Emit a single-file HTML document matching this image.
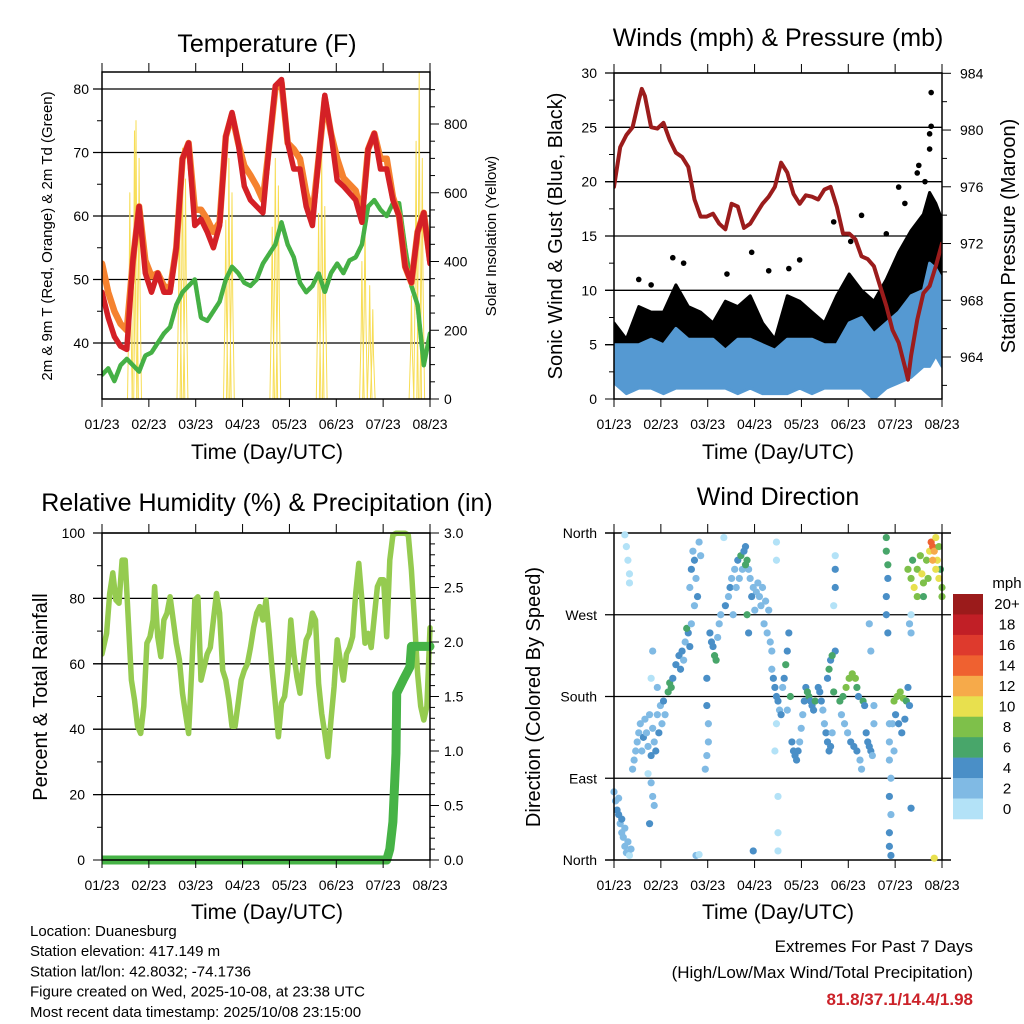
<!DOCTYPE html>
<html><head><meta charset="utf-8"><style>
body{margin:0;background:#fff;}
svg{display:block;font-family:"Liberation Sans",sans-serif;}
</style></head><body>
<svg id="s" width="1024" height="1024" viewBox="0 0 1024 1024" xmlns="http://www.w3.org/2000/svg"></svg>
<script>
// ---------- DATA ----------
const monthLabels=["01/23","02/23","03/23","04/23","05/23","06/23","07/23","08/23"];
const tDays=[0,4,8,12,16,20,24,28,32,36,40,44,48,52,56,60,64,68,72,76,80,84,88,92,96,100,104,108,112,116,120,124,128,132,136,140,144,148,152,156,160,164,168,172,176,180,184,188,192,196,200,204,208,212];
const temp2m=[48,44,41,39.5,39,53,61.5,51,48,51,48,48,55,69,71.5,58.5,59.5,57.5,55,58.5,72.5,76.3,71.5,64.7,62.5,61.5,60.5,71,80.5,81.5,71.5,67.4,67.4,61.5,58.5,69,79,73,65.6,64.7,63.6,62.5,59,70.5,73,67.4,67.4,62.5,60,52,49.5,57.5,60.5,52.5];
const temp9m=[52.5,48,45,43,42,53,61.5,53,50.5,51,49,48.5,55,69,71.5,61,61,59.5,57.5,59,72.5,76,71.5,67.9,66.4,64.7,62.5,71,80,81,71.5,70.5,69,63.6,60,69,78.5,73,69,66,65,64,60,70.5,73,69,69,63,60,52,49.5,57.5,60.5,53];
const dew2m=[35,36,34,36.5,37.5,36.5,35.5,38,38.5,40,41.5,42.5,46,48,49,50,44,43.5,45,46.5,50,52,51,49.5,49,50,52.5,54,55.5,59,55.5,53.5,49.5,48,49,51,48,51,52.5,51,53,53.5,55.5,61.5,62.5,61,60,62,62,55,49,46,36.5,41.5];
const solarDays=[18,21,22,24,50,52,54,80,82,84,110,112,114,140,142,144,168,170,173,175,200,203,205,207];
const solarPeaks=[600,780,810,700,620,730,640,520,700,600,500,700,620,540,720,560,400,520,330,260,300,750,950,700];
const pDays=[0,4,8,12,16,18,20,24,28,32,36,40,44,48,52,56,60,64,68,72,76,80,84,88,92,96,100,104,108,112,116,120,124,128,132,136,140,144,148,152,156,160,164,168,172,176,180,184,188,190,192,196,200,204,208,212];
const pressure=[976.0,978.8,979.65,980.2,982.1,982.9,982.4,980.2,980.1,980.5,979.3,978.4,978.1,977.4,975.1,973.9,973.9,974.1,973.4,973.0,974.8,974.6,973.1,973.4,974.1,974.8,975.3,976.0,977.7,977.0,975.5,974.8,975.4,975.3,975.1,975.8,976.0,974.6,972.7,972.7,972.3,971.1,970.9,970.4,969.0,967.6,965.9,965.0,963.3,962.4,964.1,966.6,968.5,969.0,970.4,972.0];
const wDays=[0,8,16,24,32,40,48,56,64,72,80,88,96,104,112,120,128,136,144,152,160,168,176,184,192,200,204,208,212];
const windLow=[1.5,0.5,1,1,0.5,1,1,1,1,1,0.5,1,0.5,0.5,0.5,1,0.5,1,1,1,1,0,1,1.5,2,3,3,4,3];
const windHigh=[5,5,5,5.5,5,6.5,5.5,5.5,5.5,4.5,5.5,5.5,5,4.5,5.5,5.5,5.5,5,5,7,7.5,6,7,8,9.5,10,12.5,12,11];
const gustLow=[3,2,3,3,3,3,3,4,3,4,3,3,3,3,3,3,3,2,3,3,3,3,4,4,6,7,7,8,6];
const gustHigh=[7,5.5,8.5,8,8,10.5,8.5,8,7,9,8.5,9.5,7,5.5,9.5,9,8,7,9.5,11.5,10,9,11,13.5,15.5,17,19,18,16.5];
const gustOutDays=[142,89,205,205,204,204,184,196,160,176,38,45,120,100,16,24,73,113,153,197,201,188];
const gustOutVals=[16.3,13.5,28.2,25.1,24.4,23,19.5,20.8,16.9,15.2,13,12.5,12.8,11.8,11,10.5,11.5,12,14.5,21.5,20,18];
const rhDays=[0,3,5,7,9,11,13,15,17,19,21,23,25,27,29,31,33,34,36,38,40,42,44,46,48,50,52,54,56,58,60,62,64,66,68,70,72,74,76,78,80,82,84,86,88,90,92,94,96,98,100,102,104,106,108,110,112,114,116,118,120,122,124,126,128,130,132,134,136,138,140,142,144,146,148,150,152,154,156,158,160,162,164,166,168,170,172,174,176,178,180,182,184,186,188,190,192,194,196,198,200,202,204,206,208,210,212];
const rhVals=[63,69.3,81.5,87.8,79.5,78.5,91.7,91.7,73.4,55,49,40.9,38.7,47,66.3,68.3,73.4,83.6,68.3,62.2,73.4,75.5,80.5,73.4,66.3,61.2,51,44.8,38.7,58,79.5,80.5,55,59,63,65,73.4,81.5,75.5,58,55,49,40.9,40.9,48,55,58,60,65,71,75.5,77.5,73.4,79.5,69.3,58,48,37.7,48,50,58,73.4,63,56,51,60,67.3,69.3,75.5,73.4,54,44.8,38.7,31.6,42.8,53,67.3,61,55,63,65,68.3,81.5,90.7,79.5,66.3,69.3,65,74.4,83.6,85.7,85.7,68.3,91.7,99.4,99.9,99.9,99.9,99.9,99.4,88.7,73.4,57,47,42.8,47,71];
const rainDays=[0,184,186,188,190,190.5,194.6,199,200,212];
const rainVals=[0,0,0.1,0.35,0.98,1.53,1.65,1.77,1.96,1.96];
const dirDays=[0,1,2,3,4,5,6,7,8,9,10,11,5,3,7,7,8,9,10,10,
12,13,14,15,16,17,18,19,20,21,22,23,24,25,26,27,28,29,30,31,32,33,22,24,25,23,26,24,25,28,
35,36,37,38,40,42,44,46,48,45,43,47,49,50,49,50,51,52,53,54,55,56,52,60,60,61,61,60,59,53,55,
62,63,64,65,66,67,68,69,72,74,75,76,78,80,82,84,85,86,87,88,90,92,94,95,96,98,100,83,81,79,89,91,93,85,86,87,97,99,101,77,102,71,105,105,106,106,106,105,104,90,
102,103,104,105,106,107,108,109,110,111,112,113,114,112,
115,116,117,118,119,120,121,122,123,124,125,126,127,128,129,130,143,143,143,142,143,
132,133,134,135,136,137,138,139,140,141,138,139,140,141,142,
146,148,150,152,154,156,157,158,147,149,151,153,155,157,159,160,161,162,
163,164,165,166,167,168,166,165,168,
176,176,177,177,176,176,177,178,178,178,179,178,179,178,178,179,180,181,
181,183,185,187,189,182,184,186,188,190,191,191,192,192,192,
190,192,194,196,198,199,200,202,204,205,206,207,208,209,210,211,212,196,203,200,193,206,208,212,210,207];
const dirDeg=[75,65,55,50,40,30,25,15,8,20,5,12,45,68,35,358,345,330,315,305,
100,110,120,130,140,150,120,135,155,140,125,160,115,145,130,120,160,140,170,150,175,160,95,85,70,40,60,200,230,190,
185,195,190,200,215,225,230,240,250,220,210,255,235,260,300,320,340,330,310,290,350,335,280,200,170,150,130,115,100,5,6,
250,240,235,225,220,245,260,270,280,290,300,310,320,330,335,340,345,330,320,310,300,295,290,280,300,285,275,320,310,300,290,275,305,325,270,250,260,250,240,270,230,355,350,330,10,30,70,150,120,10,
210,200,190,180,175,165,160,190,200,215,230,250,180,165,
130,120,115,110,120,130,145,160,175,190,185,180,175,170,165,175,335,320,300,280,230,
190,185,175,165,150,140,130,120,125,140,200,210,220,225,185,
175,180,190,200,205,200,190,180,160,150,140,130,125,120,110,100,175,170,
140,130,125,120,115,150,230,260,170,
355,340,325,310,290,270,250,150,130,110,90,70,50,30,15,5,150,120,
175,180,185,178,175,160,150,140,155,190,170,260,270,250,57,
320,310,300,320,335,315,305,330,340,350,345,340,355,330,345,320,300,290,310,290,330,330,320,290,310,2];
const dirSpd=[2,3,4,4,3,2,3,2,2,3,1,2,4,2,3,0,1,1,1,1,
2,2,2,2,2,3,3,4,3,2,3,2,4,2,3,4,2,4,3,2,4,2,1,3,2,4,2,1,2,2,
6,6,7,4,4,4,4,3,4,2,4,6,4,3,3,4,3,4,2,4,3,2,3,4,4,2,2,2,2,2,1,
4,4,4,6,6,2,3,2,4,2,4,2,2,4,6,4,4,6,2,2,2,2,2,2,2,2,2,2,2,2,4,2,2,6,6,4,2,2,2,2,2,1,1,1,1,1,1,1,1,4,
2,4,4,4,4,2,4,2,4,6,4,4,6,2,
4,4,4,4,4,2,2,2,4,4,6,6,4,4,4,6,1,4,4,1,4,
4,4,4,2,2,4,4,4,4,2,4,6,4,6,6,
6,6,8,8,8,8,6,4,2,2,2,4,4,4,2,2,6,4,
4,4,4,4,2,2,2,2,2,
6,6,6,4,4,4,4,2,2,2,2,4,2,4,4,4,2,2,
8,8,8,8,6,4,4,4,4,4,4,2,1,2,4,
8,8,10,8,8,10,8,8,10,14,14,12,10,10,8,6,8,8,8,6,6,12,10,8,10,10];
const cbLabels=["20+","18","16","14","12","10","8","6","4","2","0"];
const cbColors=["#9b1b1b","#c11f26","#de3a2d","#ef6130","#f6aa4a","#e8e04e","#7ec04a","#48a66a","#4a8fc7","#80bae4","#b3e2f7"];
// ---------- HELPERS ----------
const S=document.getElementById('s');const NS='http://www.w3.org/2000/svg';
function el(tag,attrs,parent,text){const e=document.createElementNS(NS,tag);for(const k in attrs)e.setAttribute(k,attrs[k]);if(text!==undefined)e.textContent=text;(parent||S).appendChild(e);return e;}
function lin(d0,d1,r0,r1){return v=>r0+(v-d0)*(r1-r0)/(d1-d0);}
function txt(x,y,s,size,anchor,parent,name,extra){const t=el('text',Object.assign({x:x,y:y,'font-size':size,'text-anchor':anchor||'middle',fill:'#000'},extra||{}),parent,s);return t;}
function line(x1,y1,x2,y2,w,parent,c){return el('line',{x1:x1,y1:y1,x2:x2,y2:y2,stroke:c||'#000','stroke-width':w||1},parent);}
function poly(xs,ys,parent,attrs){let d='';for(let i=0;i<xs.length;i++)d+=(i?'L':'M')+xs[i].toFixed(1)+','+ys[i].toFixed(1);return el('path',Object.assign({d:d,fill:'none','stroke-linejoin':'round','stroke-linecap':'round'},attrs),parent);}
function group(name){const g=el('g',{});return g;}
function clip(id,x0,y0,x1,y1){const c=el('clipPath',{id:id});el('rect',{x:x0,y:y0,width:x1-x0,height:y1-y0},c);}
function frame(g,x0,y0,x1,y1,leftTicks,rightTicks,ly,ry){
  const ax=group('x-axis');g.appendChild(ax);
  for(let i=0;i<8;i++){const x=x0+(x1-x0)*i/7;line(x,y1,x,y1+8,1,ax);line(x,y0,x,y0-9,1,ax);txt(x,y1+30,monthLabels[i],14,'middle',ax,'x-tick-label');}
  for(const v of leftTicks.major){line(x0-9,ly(v),x0,ly(v),1,g);}
  for(const v of leftTicks.minor){line(x0-5,ly(v),x0,ly(v),1,g);}
  for(const v of rightTicks.major){line(x1,ry(v),x1+9,ry(v),1,g);}
  for(const v of rightTicks.minor){line(x1,ry(v),x1+5,ry(v),1,g);}
  el('rect',{x:x0,y:y0,width:x1-x0,height:y1-y0,fill:'none',stroke:'#000','stroke-width':1.5},g);
}
el('rect',{x:0,y:0,width:1024,height:1024,fill:'#fff'});
const DMAX=212;
// ---------- PANEL 1 : TEMPERATURE ----------
(function(){
 const x0=102,x1=430,y0=72,y1=399;const g=group('temperature-panel');
 const X=lin(0,DMAX,x0,x1),Y=lin(40,80,343,89),YS=lin(0,800,399,124);
 clip('c1',x0,y0,x1,y1);
 for(const v of [40,50,60,70,80])line(x0-9,Y(v),x1,Y(v),1.3,g);
 const d=el('g',{'clip-path':'url(#c1)'},g);
 const sg=group('solar-insolation-series');d.appendChild(sg);
 for(let i=0;i<solarDays.length;i++){const p=poly([X(solarDays[i]-1.5),X(solarDays[i]-0.5),X(solarDays[i]),X(solarDays[i]+0.5),X(solarDays[i]+1.5)],[YS(0),YS(solarPeaks[i]*0.5),YS(solarPeaks[i]),YS(solarPeaks[i]*0.5),YS(0)],sg,{stroke:'#f7dd55','stroke-width':1});
  }
 const dp=poly(tDays.map(X),dew2m.map(Y),d,{stroke:'#45b045','stroke-width':4.5,'stroke-dasharray':'3 1'});
 const op=poly(tDays.map(X),temp9m.map(Y),d,{stroke:'#f5822f','stroke-width':6.5});
 const rp=poly(tDays.map(X),temp2m.map(Y),d,{stroke:'#d42026','stroke-width':5.5});
 frame(g,x0,y0,x1,y1,{major:[40,50,60,70,80],minor:[35,45,55,65,75]},{major:[0,200,400,600,800],minor:[50,100,150,250,300,350,450,500,550,650,700,750,850,900]},Y,YS);
 for(const v of [40,50,60,70,80])txt(x0-13,Y(v)+5,String(v),14,'end',g,'y-tick-label');
 for(const v of [0,200,400,600,800])txt(x1+14,YS(v)+5,String(v),14,'start',g,'y2-tick-label');
 txt(267,52,'Temperature (F)',25,'middle',g,'temperature-title');
 txt(267,459,'Time (Day/UTC)',21,'middle',g,'x-axis-title');
 txt(0,0,'2m & 9m T (Red, Orange) & 2m Td (Green)',15,'middle',g,'y-axis-title',{transform:'translate(52,236) rotate(-90)'});
 txt(0,0,'Solar Insolation (Yellow)',15,'middle',g,'y2-axis-title',{transform:'translate(496,236) rotate(-90)'});
})();
// ---------- PANEL 2 : WINDS ----------
(function(){
 const x0=614,x1=942,y0=73,y1=399;const g=group('winds-panel');
 const X=lin(0,DMAX,x0,x1),Y=lin(0,30,399,73),YP=lin(964,984,357,73.3);
 clip('c2',x0,y0-2,x1,y1);
 for(const v of [5,10,15,20,25,30])line(x0-9,Y(v),x1,Y(v),1.3,g);
 const d=el('g',{'clip-path':'url(#c2)'},g);
 const gx=wDays.map(X).concat(wDays.slice().reverse().map(X));
 const gb=poly(gx,gustHigh.map(Y).concat(gustLow.slice().reverse().map(Y)),d,{fill:'#000',stroke:'#000','stroke-width':3});
 for(let i=0;i<gustOutDays.length;i++){const c=el('circle',{cx:X(gustOutDays[i]),cy:Y(gustOutVals[i]),r:2.8,fill:'#000'},d);}
 const wb=poly(gx,windHigh.map(Y).concat(windLow.slice().reverse().map(Y)),d,{fill:'#5599d2',stroke:'#5599d2','stroke-width':3});
 const pp=poly(pDays.map(X),pressure.map(YP),d,{stroke:'#9b1c1c','stroke-width':4});
 frame(g,x0,y0,x1,y1,{major:[0,5,10,15,20,25,30],minor:[2.5,7.5,12.5,17.5,22.5,27.5]},{major:[964,968,972,976,980,984],minor:[962,966,970,974,978,982]},Y,YP);
 for(const v of [0,5,10,15,20,25,30])txt(x0-17,Y(v)+5,String(v),14,'end',g,'y-tick-label');
 for(const v of [964,968,972,976,980,984])txt(x1+18,YP(v)+5,String(v),14,'start',g,'y2-tick-label');
 txt(778,46,'Winds (mph) & Pressure (mb)',25,'middle',g,'winds-title');
 txt(778,459,'Time (Day/UTC)',21,'middle',g,'x-axis-title');
 txt(0,0,'Sonic Wind & Gust (Blue, Black)',20,'middle',g,'y-axis-title',{transform:'translate(562,236) rotate(-90)'});
 txt(0,0,'Station Pressure (Maroon)',20,'middle',g,'y2-axis-title',{transform:'translate(1015,236) rotate(-90)'});
})();
// ---------- PANEL 3 : RH & PRECIP ----------
(function(){
 const x0=102,x1=430,y0=533,y1=860;const g=group('humidity-panel');
 const X=lin(0,DMAX,x0,x1),Y=lin(0,100,860,533),YR=lin(0,3,860,533);
 clip('c3',x0,y0-4,x1+6,y1+6);
 for(const v of [20,40,60,80,100])line(x0-9,Y(v),x1,Y(v),1.3,g);
 const d=el('g',{'clip-path':'url(#c3)'},g);
 const rh=poly(rhDays.map(X),rhVals.map(Y),d,{stroke:'#95cb50','stroke-width':5.5});
 const rr=poly(rainDays.map(X),rainVals.map(YR),d,{stroke:'#46b346','stroke-width':9});
 frame(g,x0,y0,x1,y1,{major:[0,20,40,60,80,100],minor:[10,30,50,70,90]},{major:[0,0.5,1,1.5,2,2.5,3],minor:[0.1,0.2,0.3,0.4,0.6,0.7,0.8,0.9,1.1,1.2,1.3,1.4,1.6,1.7,1.8,1.9,2.1,2.2,2.3,2.4,2.6,2.7,2.8,2.9]},Y,YR);
 for(const v of [0,20,40,60,80,100])txt(x0-17,Y(v)+5,String(v),14,'end',g,'y-tick-label');
 for(const v of [0,0.5,1,1.5,2,2.5,3])txt(x1+14,YR(v)+5,v.toFixed(1),14,'start',g,'y2-tick-label');
 txt(267,511,'Relative Humidity (%) & Precipitation (in)',25,'middle',g,'humidity-title');
 txt(267,919,'Time (Day/UTC)',21,'middle',g,'x-axis-title');
 txt(0,0,'Percent & Total Rainfall',20,'middle',g,'y-axis-title',{transform:'translate(47,697) rotate(-90)'});
})();
// ---------- PANEL 4 : WIND DIRECTION ----------
(function(){
 const x0=614,x1=942,y0=533,y1=860;const g=group('wind-direction-panel');
 const X=lin(0,DMAX,x0,x1),Y=lin(0,360,860,533);
 for(const v of [90,180,270])line(x0-9,Y(v),951,Y(v),1.3,g);
 line(x0-9,y0,951,y0,1.5,g);line(x0-9,y1,951,y1,1.5,g);
 const d=group('direction-points');g.appendChild(d);
 for(let i=0;i<dirDays.length;i++){const k=Math.min(10,Math.floor(dirSpd[i]/2));const c=el('circle',{cx:X(dirDays[i]),cy:Y(dirDeg[i]),r:3.6,fill:cbColors[10-k]},d);
  }
 for(let i=0;i<8;i++){const x=x0+(x1-x0)*i/7;line(x,y1,x,y1+8,1,g);line(x,y0,x,y0-9,1,g);txt(x,y1+30,monthLabels[i],14,'middle',g,'x-tick-label');}
 line(x0,y0,x0,y1,1.5,g);line(x1,y0,x1,y1,1.5,g);
 const names=['North','East','South','West','North'];
 [0,90,180,270,360].forEach((v,i)=>txt(x0-17,Y(v)+5,names[i],14,'end',g,'y-tick-label'));
 txt(778,505,'Wind Direction',25,'middle',g,'wind-direction-title');
 txt(778,919,'Time (Day/UTC)',21,'middle',g,'x-axis-title');
 txt(0,0,'Direction (Colored By Speed)',20,'middle',g,'y-axis-title',{transform:'translate(540,697) rotate(-90)'});
 const lg=group('speed-colorbar');g.appendChild(lg);
 txt(1007,588,'mph',15,'middle',lg,'colorbar-title');
 const bh=(819-594)/11;
 for(let i=0;i<11;i++){const r=el('rect',{x:953,y:594+i*bh,width:30,height:bh+0.3,fill:cbColors[i]},lg);
  txt(1007,594+i*bh+bh/2+5,cbLabels[i],15,'middle',lg,'colorbar-label');}
})();
// ---------- FOOTER ----------
(function(){
 const g=group('station-info');
 const lines=['Location: Duanesburg','Station elevation: 417.149 m','Station lat/lon: 42.8032; -74.1736','Figure created on Wed, 2025-10-08, at 23:38 UTC','Most recent data timestamp: 2025/10/08 23:15:00'];
 lines.forEach((s,i)=>txt(30,936+i*20.2,s,15,'start',g,'station-info-line'));
 const e=group('extremes-summary');
 txt(973,952,'Extremes For Past 7 Days',17,'end',e,'extremes-title');
 txt(973,978,'(High/Low/Max Wind/Total Precipitation)',17,'end',e,'extremes-subtitle');
 txt(973,1005,'81.8/37.1/14.4/1.98',17,'end',e,'extremes-values',{fill:'#cc2229','font-weight':'bold'});
})();
</script>
</body></html>
